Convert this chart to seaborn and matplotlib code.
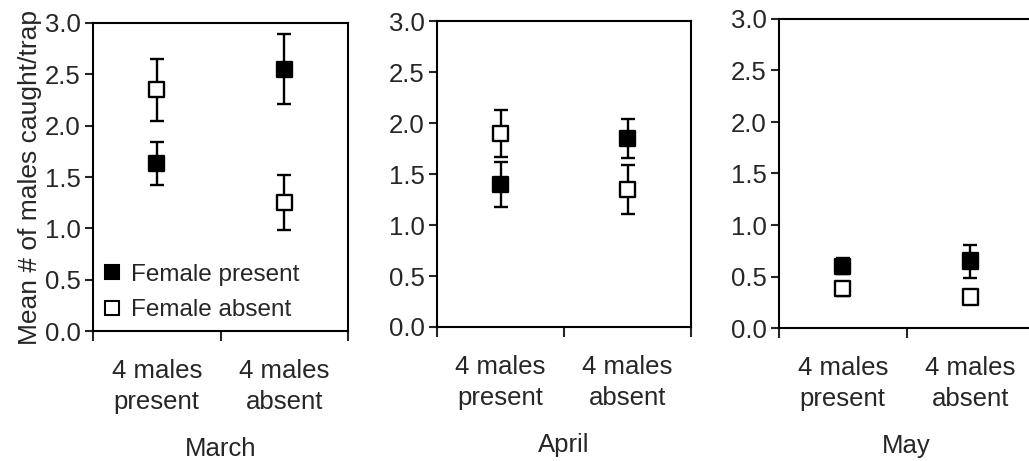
import numpy as np
import pandas as pd
import matplotlib
matplotlib.use("Agg")
import matplotlib.pyplot as plt
from matplotlib.lines import Line2D
import seaborn as sns

months = ["March", "April", "May"]
categories = ["4 males\npresent", "4 males\nabsent"]
treatments = ["Female present", "Female absent"]

march_fp = [1.63, 2.55]
march_fp_se = [0.21, 0.34]
march_fa = [2.35, 1.25]
march_fa_se = [0.30, 0.27]

april_fp = [1.40, 1.85]
april_fp_se = [0.22, 0.19]
april_fa = [1.90, 1.35]
april_fa_se = [0.23, 0.24]

may_fp = [0.60, 0.65]
may_fp_se = [0.08, 0.16]
may_fa = [0.38, 0.30]
may_fa_se = [0.07, 0.03]

rows = []
for m, fp, fps, fa, fas in [("March", march_fp, march_fp_se, march_fa, march_fa_se),
                            ("April", april_fp, april_fp_se, april_fa, april_fa_se),
                            ("May", may_fp, may_fp_se, may_fa, may_fa_se)]:
    for i, c in enumerate(categories):
        rows.append(dict(month=m, cat=c, idx=i, treat="Female present", mean=fp[i], se=fps[i]))
        rows.append(dict(month=m, cat=c, idx=i, treat="Female absent", mean=fa[i], se=fas[i]))
df = pd.DataFrame(rows)
df["x"] = df["idx"] + 0.5

sns.set_style("ticks")
plt.rcParams["font.family"] = ["Liberation Sans", "DejaVu Sans"]
FS = 18.5

W, H = 1029, 461
fig = plt.figure(figsize=(W / 100, H / 100), dpi=100)
boxes = [(93, 255, 23, 331), (437, 254, 21, 327), (779, 255, 19, 328)]
colors = {"Female present": "black", "Female absent": "white"}

for k, (m, (l, w, t, b)) in enumerate(zip(months, boxes)):
    ax = fig.add_axes([l / W, 1 - b / H, w / W, (b - t) / H])
    sub = df[df["month"] == m]
    for tr in treatments:
        s = sub[sub["treat"] == tr]
        ax.errorbar(s["x"], s["mean"], yerr=s["se"], fmt="none", ecolor="black",
                    elinewidth=1.7, capsize=5, capthick=1.7, zorder=2)
    sns.scatterplot(data=sub, x="x", y="mean", hue="treat", palette=colors,
                    marker="s", s=120, edgecolor="black", linewidth=1.7,
                    legend=False, ax=ax, zorder=3)
    ax.set_xlim(0, 2)
    ax.set_ylim(0, 3)
    ax.set_yticks(np.arange(0, 3.01, 0.5))
    ax.set_yticklabels([f"{v:.1f}" for v in np.arange(0, 3.01, 0.5)], fontsize=FS)
    ax.set_xticks([0, 1, 2])
    ax.set_xticklabels([])
    ax.set_xticks([0.5, 1.5], minor=True)
    ax.set_xticklabels(categories, minor=True, fontsize=FS, linespacing=1.4)
    ax.tick_params(axis="x", which="major", length=7, width=1.5, direction="out")
    ax.tick_params(axis="x", which="minor", length=0, pad=20)
    ax.tick_params(axis="y", length=6, width=1.5, direction="out", pad=3)
    for sp in ax.spines.values():
        sp.set_visible(True)
        sp.set_linewidth(1.5)
        sp.set_color("black")
    ax.set_xlabel(m, fontsize=FS, labelpad=16)
    ax.set_ylabel("")
    if k == 0:
        ax.set_ylabel("Mean # of males caught/trap", fontsize=19, labelpad=2)
        handles = [Line2D([], [], marker="s", ls="none", color="black", markerfacecolor=colors[tr],
                          markeredgecolor="black", markersize=10, markeredgewidth=1.5)
                   for tr in treatments]
        ax.legend(handles, treatments, loc="lower left", frameon=False, fontsize=17.5,
                  handletextpad=0.35, handlelength=0.8, borderaxespad=0.0, labelspacing=0.55,
                  borderpad=0.4)

fig.savefig("out.png", dpi=100)
